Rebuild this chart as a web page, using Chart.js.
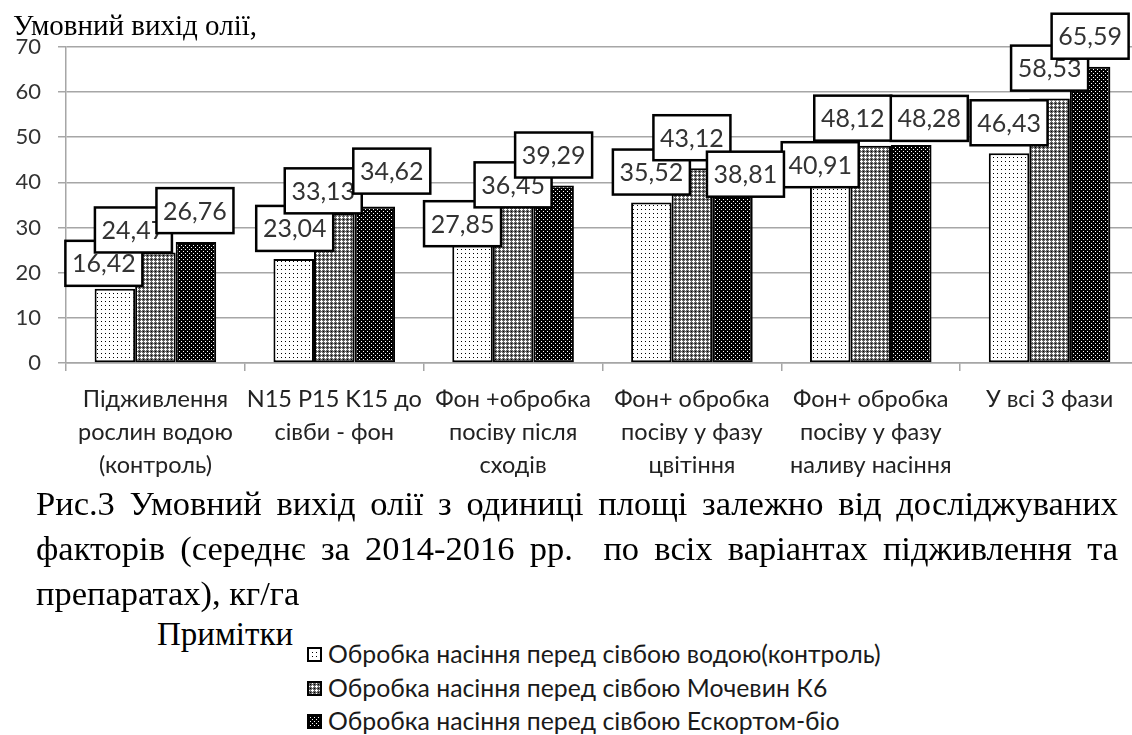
<!DOCTYPE html>
<html>
<head>
<meta charset="utf-8">
<script src="https://cdn.jsdelivr.net/npm/chart.js@4.4.1/dist/chart.umd.min.js"></script>
<style>
  html, body { margin: 0; padding: 0; background: #fff; overflow: hidden; width: 1132px; height: 735px; }
  #chart { position: absolute; left: 0; top: 0; }
  .cap { position: absolute; left: 36px; width: 1082px; font: 34.5px "Liberation Serif", "Times New Roman", serif; line-height: 45px; color: #000; white-space: nowrap; }
  .just { text-align: justify; text-align-last: justify; white-space: normal; }
  #notes { position: absolute; left: 157px; top: 617px; font: 33px "Liberation Serif", serif; color: #000; line-height: 34px; }
  .leg { position: absolute; left: 307px; height: 34px; font: 24.8px Lato, sans-serif; color: #1a1a1a; line-height: 34px; white-space: nowrap; }
  .leg canvas { position: absolute; left: 0; top: 10px; }
  .leg span { position: absolute; left: 21px; top: 0; }
</style>
</head>
<body>
<canvas id="chart" width="1150" height="500"></canvas>
<div class="cap just" style="top:481px">Рис.3 Умовний вихід олії з одиниці площі залежно від досліджуваних</div>
<div class="cap just" style="top:526px">факторів (середнє за 2014-2016 рр. &nbsp;по всіх варіантах підживлення та</div>
<div class="cap" style="top:571px">препаратах), кг/га</div>
<div id="notes">Примітки</div>
<div id="legend"></div>
<script>
const categories = [
  ['Підживлення', 'рослин водою', '(контроль)'],
  ['N15 P15 K15 до', 'сівби - фон'],
  ['Фон +обробка', 'посіву після', 'сходів'],
  ['Фон+ обробка', 'посіву у фазу', 'цвітіння'],
  ['Фон+ обробка', 'посіву у фазу', 'наливу насіння'],
  ['У всі 3 фази']
];
const seriesNames = [
  'Обробка насіння перед сівбою водою(контроль)',
  'Обробка насіння перед сівбою Мочевин К6',
  'Обробка насіння перед сівбою Ескортом-біо'
];
const waterValues = [16.42, 23.04, 27.85, 35.52, 40.91, 46.43];
const mochevynValues = [24.47, 33.13, 36.45, 43.12, 48.12, 58.53];
const eskortValues = [26.76, 34.62, 39.29, 38.81, 48.28, 65.59];
const yTicks = [0, 10, 20, 30, 40, 50, 60, 70];

// hand-moved data callouts, [dx, dy] from the default spot above each bar
const labelNudge = [
  [[-11, 5], [1, 0], [-10, 17], [0, 0], [-10, 17], [0, 0]],
  [[-22, 8], [-11, 8], [0, 17], [0, 0], [-18, 3], [0, 0]],
  [[-1, -1], [17, -5], [0, 0], [13, 17], [18, 4], [0, 0]]
];

function tile(size, bg, dots) {
  const c = document.createElement('canvas');
  c.width = c.height = size;
  const g = c.getContext('2d');
  g.fillStyle = bg;
  g.fillRect(0, 0, size, size);
  dots.forEach(([x, y, col]) => { g.fillStyle = col; g.fillRect(x, y, 1, 1); });
  return c;
}
const tiles = [
  tile(4, '#fff', [[1, 1, '#000']]),
  tile(4, '#666', [[1, 0, '#fff'], [0, 1, '#fff'], [1, 1, '#fff'], [2, 1, '#fff'], [1, 2, '#fff'], [3, 3, '#000']]),
  tile(4, '#000', [[1, 1, '#fff'], [3, 3, '#fff']])
];
const ctx = document.getElementById('chart').getContext('2d');
const patterns = tiles.map(t => ctx.createPattern(t, 'repeat'));

const calloutPlugin = {
  id: 'callouts',
  afterDatasetsDraw(chart) {
    const c = chart.ctx;
    c.save();
    c.font = '25px Lato, sans-serif';
    c.textAlign = 'center';
    c.textBaseline = 'middle';
    chart.data.datasets.forEach((ds, i) => {
      chart.getDatasetMeta(i).data.forEach((bar, j) => {
        const [dx, dy] = labelNudge[i][j];
        const w = 77, h = 45;
        const cx = bar.x + dx;
        const bottom = bar.y - 8 + dy;
        c.fillStyle = '#fff';
        c.fillRect(cx - w / 2, bottom - h, w, h);
        c.lineWidth = 2.5;
        c.strokeStyle = '#000';
        c.strokeRect(cx - w / 2, bottom - h, w, h);
        c.fillStyle = '#333';
        c.fillText(ds.data[j].toFixed(2).replace('.', ','), cx, bottom - h / 2 + 1);
      });
    });
    c.restore();
  }
};

const gridGrey = '#a6a6a6';
const chart = new Chart(ctx, {
  type: 'bar',
  data: {
    labels: categories,
    datasets: [waterValues, mochevynValues, eskortValues].map((vals, i) => ({
      label: seriesNames[i],
      data: vals,
      backgroundColor: patterns[i],
      borderColor: '#000',
      borderWidth: 2,
      borderSkipped: false,
      categoryPercentage: 0.68,
      barPercentage: 1
    }))
  },
  options: {
    responsive: false,
    animation: false,
    layout: { padding: { left: 13, right: 11, top: 0, bottom: 0 } },
    plugins: {
      legend: { display: false },
      tooltip: { enabled: false },
      title: {
        display: true,
        text: 'Умовний вихід олії,',
        align: 'start',
        color: '#000',
        font: { family: '"Liberation Serif", serif', size: 29, weight: 'normal', lineHeight: 1.2 },
        padding: { top: 10, bottom: 2 }
      }
    },
    scales: {
      x: {
        grid: { display: true, drawOnChartArea: false, drawTicks: true, tickLength: 8, color: gridGrey, lineWidth: 1.5 },
        border: { color: gridGrey, width: 1.5 },
        ticks: { color: '#222', padding: 12, font: { family: 'Lato, sans-serif', size: 23.5, lineHeight: 1.4 }, maxRotation: 0, autoSkip: false },
        afterFit(s) { s.height = 137; }
      },
      y: {
        min: yTicks[0],
        max: yTicks[yTicks.length - 1],
        afterBuildTicks(s) { s.ticks = yTicks.map(v => ({ value: v })); },
        grid: { color: gridGrey, lineWidth: 1.5, tickLength: 8 },
        border: { color: gridGrey, width: 1.5 },
        ticks: { color: '#333', padding: 17, font: { family: 'Lato, sans-serif', size: 22 } },
        afterFit(s) { s.width = 53; }
      }
    }
  },
  plugins: [calloutPlugin]
});

// legend list under the caption, built from the chart's datasets
const legendBox = document.getElementById('legend');
const legendTops = [637, 671, 704];
chart.data.datasets.forEach((ds, i) => {
  const item = document.createElement('div');
  item.className = 'leg';
  item.style.top = legendTops[i] + 'px';
  const sw = document.createElement('canvas');
  sw.width = 15; sw.height = 15;
  const g = sw.getContext('2d');
  g.fillStyle = g.createPattern(tiles[i], 'repeat');
  g.fillRect(0, 0, 15, 15);
  g.lineWidth = 2;
  g.strokeStyle = '#000';
  g.strokeRect(1, 1, 13, 13);
  const txt = document.createElement('span');
  txt.textContent = ds.label;
  item.appendChild(sw);
  item.appendChild(txt);
  legendBox.appendChild(item);
});
</script>
</body>
</html>
